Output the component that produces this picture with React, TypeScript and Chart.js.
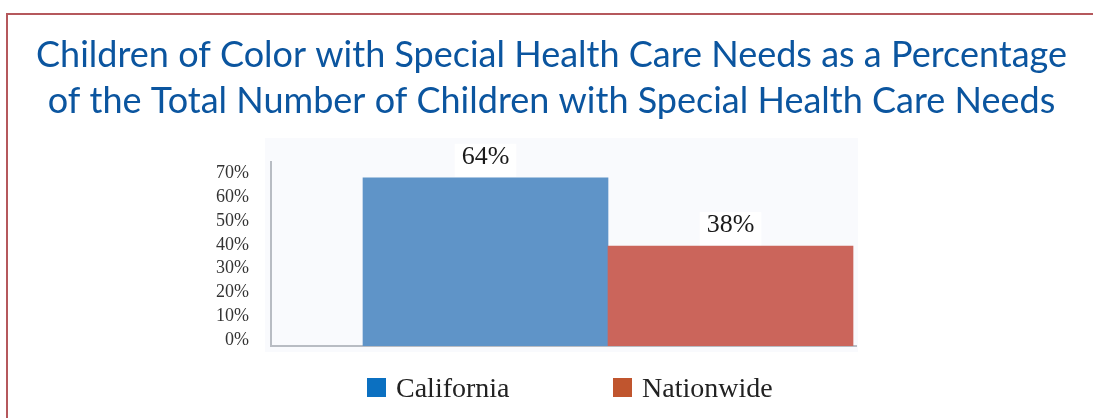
import React, { useEffect, useRef } from "react";
import { Chart, registerables } from "chart.js";

Chart.register(...registerables);

const titleLines = [
  "Children of Color with Special Health Care Needs as a Percentage",
  "of the Total Number of Children with Special Health Care Needs",
];
const categories = ["California", "Nationwide"];
const values = [64, 38];
const barColors = ["#5f94c8", "#cb655b"];
const legendColors = ["#0b70c1", "#c0552e"];
const tickValues = [0, 10, 20, 30, 40, 50, 60, 70];
const yMax = 70;

const plotBackground = {
  id: "plotBackground",
  beforeDraw(chart: any) {
    const { ctx, chartArea } = chart;
    ctx.save();
    ctx.fillStyle = "#f9fafd";
    ctx.fillRect(chartArea.left - 6, 138, chartArea.right - chartArea.left + 8, chartArea.bottom + 6 - 138);
    ctx.restore();
  },
};

const valueLabels = {
  id: "valueLabels",
  afterDatasetsDraw(chart: any) {
    const ctx = chart.ctx;
    const meta = chart.getDatasetMeta(0);
    ctx.save();
    ctx.font = '26px "Liberation Serif"';
    ctx.textAlign = "center";
    ctx.textBaseline = "middle";
    meta.data.forEach((el: any, i: number) => {
      const text = values[i] + "%";
      const w = ctx.measureText(text).width + 14;
      const cy = el.y - 21;
      ctx.fillStyle = "#ffffff";
      ctx.fillRect(el.x - w / 2, cy - 13, w, 33);
      ctx.fillStyle = "#1a1a1a";
      ctx.fillText(text, el.x, cy);
    });
    ctx.restore();
  },
};

export default function App() {
  const canvasRef = useRef<HTMLCanvasElement | null>(null);

  useEffect(() => {
    const canvas = canvasRef.current;
    if (!canvas) return;
    const chart = new Chart(canvas, {
      type: "bar",
      data: {
        datasets: [
          {
            label: "Share",
            data: values.map((v, i) => ({ x: i + 1, y: v })),
            backgroundColor: barColors,
            borderWidth: 0,
            barPercentage: 1,
            categoryPercentage: 1,
            yAxisID: "y",
            xAxisID: "x",
          },
        ],
      },
      options: {
        responsive: false,
        maintainAspectRatio: false,
        animation: false,
        layout: { padding: { left: 10, right: 0, top: 0, bottom: 72 } },
        plugins: {
          legend: { display: false },
          tooltip: { enabled: false },
          title: {
            display: true,
            text: titleLines,
            color: "#0b559f",
            font: { family: "Lato", size: 36, weight: "normal", lineHeight: "46px" },
            padding: { top: 32, bottom: 38 },
          },
        },
        scales: {
          x: {
            type: "linear",
            offset: false,
            min: 0.1245,
            max: 2.5122,
            grid: { display: false, drawTicks: false },
            ticks: { display: false },
            border: { display: true, color: "#b8bcc3", width: 2 },
            afterBuildTicks: (s: any) => {
              s.ticks = categories.map((_, i) => ({ value: i + 1 }));
            },
            afterFit: (s: any) => {
              s.height = 0;
            },
          },
          y: {
            display: false,
            min: 0,
            max: yMax,
          },
          y2: {
            position: "left",
            min: -2.52,
            max: 74.84,
            grid: { display: false, drawTicks: false },
            border: { display: true, color: "#b8bcc3", width: 2 },
            afterBuildTicks: (s: any) => {
              s.ticks = tickValues.map((v) => ({ value: v }));
            },
            ticks: {
              padding: 22,
              color: "#333333",
              font: { family: "Liberation Serif", size: 18 },
              callback: (v: any) => v + "%",
            },
            afterFit: (s: any) => {
              s.width = 261;
            },
          },
          yRight: {
            position: "right",
            min: 0,
            max: 1,
            grid: { display: false, drawTicks: false },
            border: { display: false },
            ticks: { display: false },
            afterFit: (s: any) => {
              s.width = 237;
            },
          },
        },
      },
      plugins: [plotBackground, valueLabels],
    } as any);
    return () => chart.destroy();
  }, []);

  const legendLeft = [367, 613];

  return (
    <div style={{ position: "absolute", left: 0, top: 0, width: 1093, height: 418, overflow: "hidden", background: "#ffffff" }}>
      <div
        style={{
          position: "absolute",
          left: 6,
          top: 13,
          width: 1110,
          height: 430,
          borderTop: "2px solid #b5585c",
          borderLeft: "2px solid #b5585c",
        }}
      />
      <canvas ref={canvasRef} width={1093} height={418} style={{ position: "absolute", left: 0, top: 0, width: 1093, height: 418 }} />
      {categories.map((c, i) => (
        <div key={c}>
          <div
            style={{
              position: "absolute",
              left: legendLeft[i],
              top: 378,
              width: 19,
              height: 19,
              background: legendColors[i],
            }}
          />
          <span
            style={{
              position: "absolute",
              left: legendLeft[i] + 29,
              top: 373.6,
              fontFamily: '"Liberation Serif"',
              fontSize: 28,
              lineHeight: "28px",
              color: "#222222",
              whiteSpace: "nowrap",
            }}
          >
            {c}
          </span>
        </div>
      ))}
    </div>
  );
}
